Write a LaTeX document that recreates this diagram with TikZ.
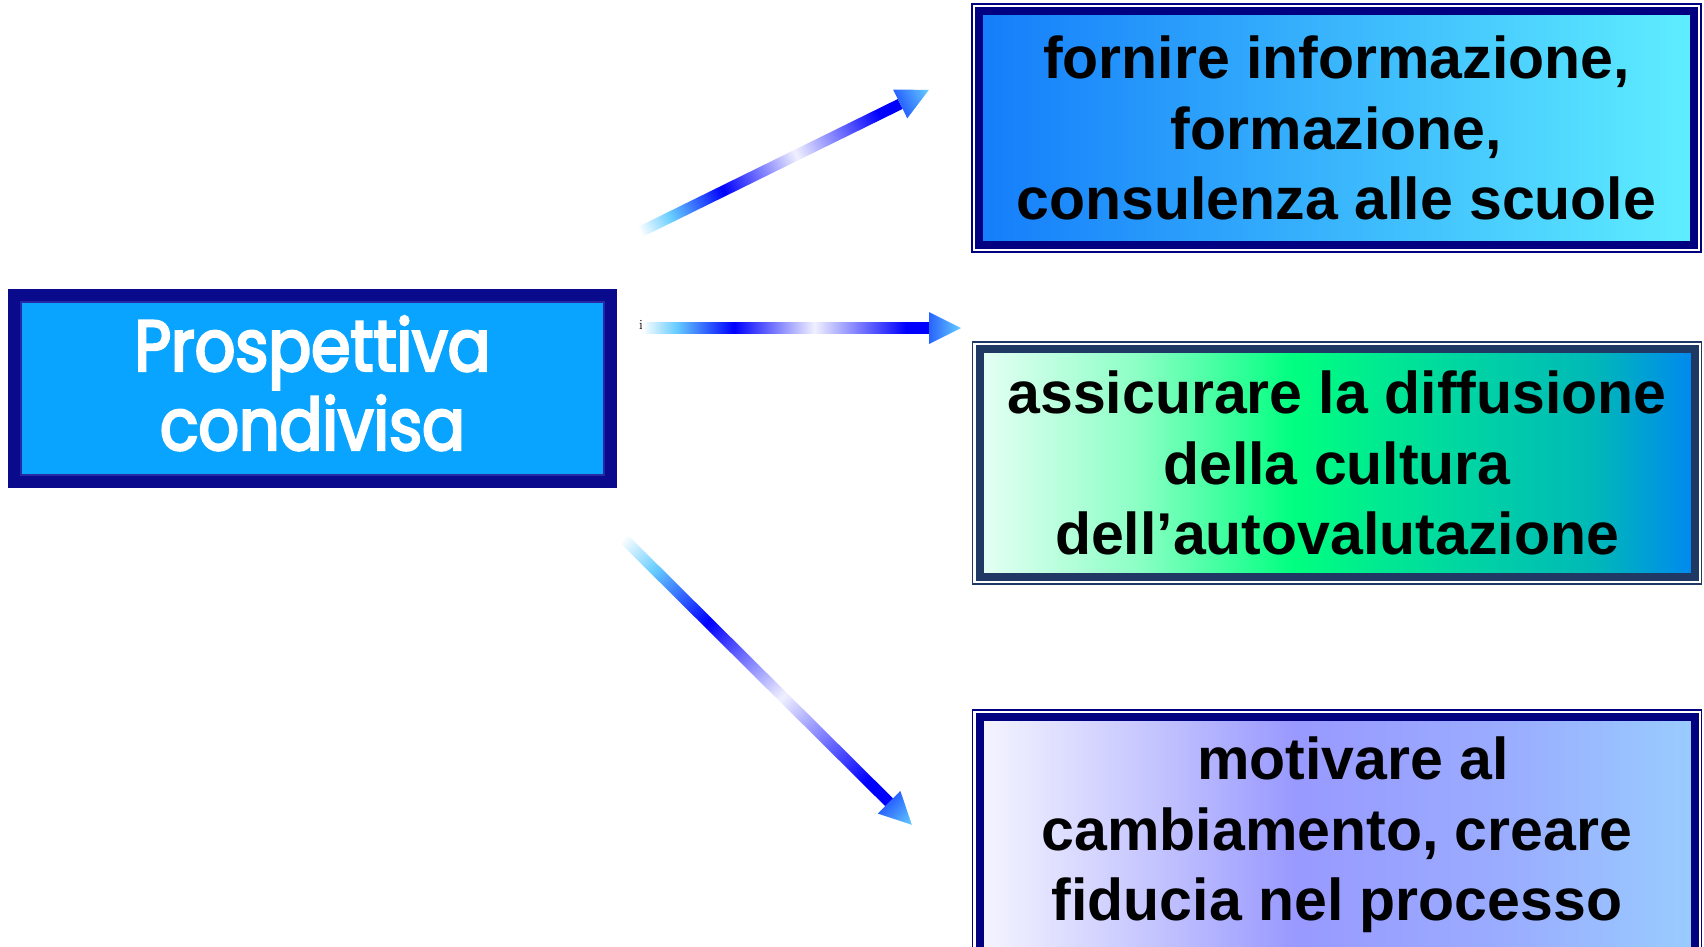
\documentclass[tikz,border=0pt]{standalone}
\usepackage{fontspec}
\usepackage{tikz}
\newfontfamily\boxfont{Liberation Sans}
\newfontfamily\roundfont{Poppins}[FakeStretch=0.88, FakeBold=3.5]

\definecolor{framenavy}{RGB}{0,0,128}
\definecolor{frameslate}{RGB}{31,56,100}
\definecolor{leftnavy}{RGB}{10,10,140}
\definecolor{leftbevel}{RGB}{40,40,165}
\definecolor{leftfill}{RGB}{8,164,255}
\definecolor{skyarrow}{RGB}{102,204,255}
\definecolor{paleblue}{RGB}{240,240,255}
\definecolor{headblue}{RGB}{40,100,255}
\definecolor{mintwhite}{RGB}{230,255,245}
\definecolor{mintlight}{RGB}{140,255,197}
\definecolor{brightgreen}{RGB}{0,255,128}
\definecolor{tealgreen}{RGB}{0,216,160}
\definecolor{tealblue}{RGB}{0,184,184}
\definecolor{deepsky}{RGB}{0,136,240}
\definecolor{lilacwhite}{RGB}{245,245,255}
\definecolor{lilaclight}{RGB}{197,197,255}
\definecolor{lilac}{RGB}{153,153,255}
\definecolor{lilacblue}{RGB}{154,173,255}
\definecolor{iceblue}{RGB}{153,204,255}

% shadings (inner 25bp--75bp is fitted to the path)
\pgfdeclarehorizontalshading{shaftshade}{100bp}{color(0bp)=(white); color(25bp)=(white); color(31bp)=(skyarrow); color(41bp)=(blue); color(55bp)=(paleblue); color(71bp)=(blue); color(75bp)=(blue); color(100bp)=(blue)}
\pgfdeclarehorizontalshading{greenshade}{100bp}{color(0bp)=(mintwhite); color(25bp)=(mintwhite); color(36bp)=(mintlight); color(47bp)=(brightgreen); color(58bp)=(tealgreen); color(68bp)=(tealblue); color(75bp)=(deepsky); color(100bp)=(deepsky)}
\pgfdeclarehorizontalshading{lilacshade}{100bp}{color(0bp)=(lilacwhite); color(25bp)=(lilacwhite); color(37bp)=(lilaclight); color(47bp)=(lilac); color(62bp)=(lilacblue); color(75bp)=(iceblue); color(100bp)=(iceblue)}

\begin{document}
\begin{tikzpicture}[
    x=1pt, y=-1pt,
    leftbox/.style={
        rectangle,
        draw=leftnavy,
        fill=leftfill,
        line width=14pt,
        minimum width=595pt,
        minimum height=185pt,
        inner sep=0pt, outer sep=0pt,
        text depth=10pt,
        align=center,
        font=\roundfont\fontsize{72}{79}\selectfont,
        text=white
    },
    goalbox/.style={
        rectangle,
        line width=8pt,
        minimum width=715pt,
        inner sep=0pt, outer sep=0pt,
        align=center,
        font=\boxfont\bfseries\fontsize{59}{70.5}\selectfont,
        text=black
    },
    outline/.style={line width=1.5pt},
    shaft/.style={shading=shaftshade},
    head/.style={left color=headblue, right color=skyarrow}
]
\useasboundingbox (0,0) rectangle (1704,946);

% left box
\node[leftbox] (shared) at (312.5,388) {Prospettiva\\condivisa};
\draw[leftbevel, line width=2pt] ([shift={(6pt,-6pt)}]shared.north west) rectangle ([shift={(-6pt,6pt)}]shared.south east);

% the three goals
\node[goalbox, draw=framenavy, left color={rgb,255:red,20;green,125;blue,250}, right color={rgb,255:red,95;green,238;blue,255}, minimum height=234pt] (inform) at (1336.5,128)
    {fornire informazione,\\formazione,\\consulenza alle scuole};
\draw[outline, framenavy] ([shift={(-7pt,7pt)}]inform.north west) rectangle ([shift={(7pt,-7pt)}]inform.south east);

\node[goalbox, draw=frameslate, shading=greenshade, minimum height=228pt] (spread) at (1337,463)
    {assicurare la diffusione\\della cultura\\dell’autovalutazione};
\draw[outline, frameslate] ([shift={(-7pt,7pt)}]spread.north west) rectangle ([shift={(7pt,-7pt)}]spread.south east);

\node[goalbox, draw=framenavy, shading=lilacshade, minimum height=236pt] (motivate) at (1337,835)
    {\hspace*{32pt}motivare al\\cambiamento, creare\\fiducia nel processo};
\draw[outline, framenavy] ([shift={(-7pt,7pt)}]motivate.north west) rectangle ([shift={(7pt,-7pt)}]motivate.south east);

% arrows
\node[font=\fontsize{14}{14}\selectfont, inner sep=0pt] (dot) at (641,325) {i};

\begin{scope}[transform canvas={shift={(640,232)}, rotate=26.2}]
  \coordinate (uptail) at (0,0);
  \coordinate (uptip) at (322,0);
  \shade[shaft] ([yshift=-5.5pt]uptail) rectangle ([xshift=-32pt, yshift=5.5pt]uptip);
  \shade[head] ([xshift=-32pt, yshift=-16pt]uptip) -- (uptip) -- ([xshift=-32pt, yshift=16pt]uptip) -- cycle;
\end{scope}

\begin{scope}[transform canvas={shift={(642,328)}}]
  \coordinate (midtail) at (0,0);
  \coordinate (midtip) at (319,0);
  \shade[shaft] ([yshift=-5.5pt]midtail) rectangle ([xshift=-32pt, yshift=5.5pt]midtip);
  \shade[head] ([xshift=-32pt, yshift=-16pt]midtip) -- (midtip) -- ([xshift=-32pt, yshift=16pt]midtip) -- cycle;
\end{scope}

\begin{scope}[transform canvas={shift={(623,538)}, rotate=-44.8}]
  \coordinate (lowtail) at (0,0);
  \coordinate (lowtip) at (407,0);
  \shade[shaft] ([yshift=-5.5pt]lowtail) rectangle ([xshift=-32pt, yshift=5.5pt]lowtip);
  \shade[head] ([xshift=-32pt, yshift=-16pt]lowtip) -- (lowtip) -- ([xshift=-32pt, yshift=16pt]lowtip) -- cycle;
\end{scope}

\end{tikzpicture}
\end{document}
